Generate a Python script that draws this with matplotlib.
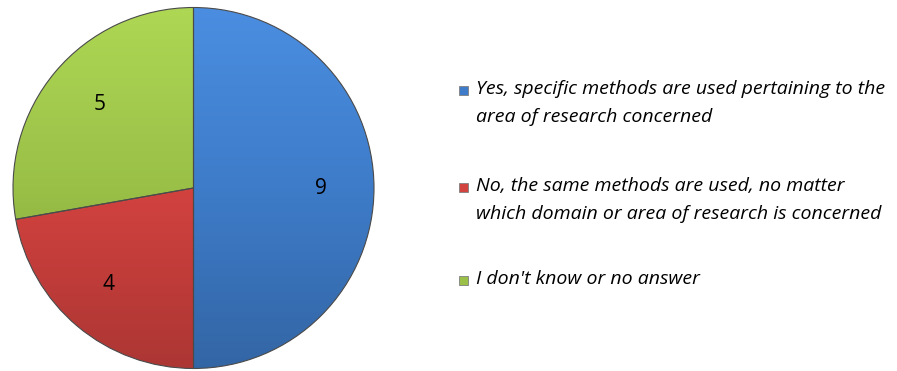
import numpy as np
import matplotlib.pyplot as plt
from matplotlib.patches import Rectangle
from matplotlib.colors import LinearSegmentedColormap, to_rgb

# Survey answers
categories = [
    "Yes, specific methods are used pertaining to the\narea of research concerned",
    "No, the same methods are used, no matter\nwhich domain or area of research is concerned",
    "I don't know or no answer",
]
counts = [9, 4, 5]
colors = ["#3E7CC9", "#D2423F", "#9AC047"]

W, H = 897, 371
fig = plt.figure(figsize=(W / 100, H / 100), dpi=100)
fig.patch.set_facecolor("white")

# Pie area: centre ~ (193, 188) px, radius ~ 180 px
cx, cy, r = 193.5, 188, 180.5
ax = fig.add_axes([(cx - r) / W, (H - cy - r) / H, 2 * r / W, 2 * r / H])

wedges, texts = ax.pie(
    counts, startangle=90, counterclock=False, radius=1,
    colors=colors, wedgeprops=dict(linewidth=0.8, edgecolor="#4a4a4a"),
    labels=[str(c) for c in counts], labeldistance=0.62,
    textprops=dict(fontsize=15, color="black", family="Open Sans"),
)

# Soft vertical shading on each slice
for w, c in zip(wedges, colors):
    base = np.array(to_rgb(c))
    light = np.clip(base * 1.08 + 0.03, 0, 1)
    dark = base * 0.82
    cmap = LinearSegmentedColormap.from_list("shade", [dark, base, light])
    grad = np.linspace(0, 1, 256).reshape(-1, 1)
    im = ax.imshow(grad, extent=(-1, 1, -1, 1), origin="lower", cmap=cmap,
                   aspect="auto", zorder=w.get_zorder() + 0.1)
    im.set_clip_path(w)
    w.set_facecolor("none")
    w.set_zorder(w.get_zorder() + 0.2)
ax.set_xlim(-1, 1)
ax.set_ylim(-1, 1)
ax.set_aspect("equal")
ax.axis("off")

# Shift labels to their places
label_pos = [(321, 189), (108, 284), (100, 105)]
for t, (px, py) in zip(texts, label_pos):
    t.set_position(((px - cx) / r, (cy - py) / r))
    t.set_ha("center")
    t.set_va("center")
    t.set_zorder(10)

# Legend drawn by hand
leg_y = [91, 188, 281]
for lab, c, py in zip(categories, colors, leg_y):
    sq = 9
    fig.patches.append(Rectangle((459 / W, (H - py - sq / 2 + 1) / H), sq / W, sq / H,
                                 transform=fig.transFigure, facecolor=c,
                                 edgecolor="#7f7f7f", linewidth=0.6))
    fig.text(476 / W, (H - py + 11) / H, lab, ha="left", va="top",
             fontsize=14, style="italic", family="Open Sans",
             linespacing=1.7, color="black")

fig.savefig("out.png", dpi=100)
